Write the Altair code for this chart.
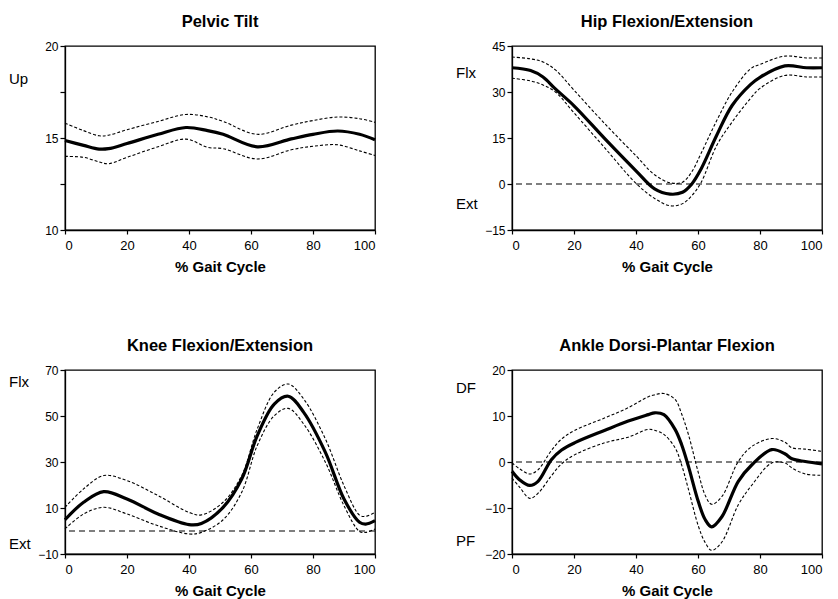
import altair as alt
import pandas as pd

X_TITLE = "% Gait Cycle"
FONT = "Liberation Sans"

# ---- Pelvic tilt (deg) ----
pelvic_x = [0, 6, 11, 14, 20, 30, 39, 46, 51, 62, 73, 80, 88, 95, 100]
pelvic_mean = [14.86, 14.6, 14.4, 14.42, 14.7, 15.2, 15.57, 15.4, 15.2, 14.52, 14.95, 15.2, 15.38, 15.2, 14.9]
pelvic_upper = [15.8, 15.4, 15.12, 15.15, 15.45, 15.9, 16.28, 16.15, 15.9, 15.2, 15.7, 15.95, 16.14, 16.05, 15.85]
pelvic_lower = [14.0, 13.95, 13.7, 13.6, 13.95, 14.52, 14.94, 14.49, 14.42, 13.86, 14.36, 14.55, 14.63, 14.3, 14.05]

# ---- Hip flexion/extension (deg) ----
hip_x = [0, 6, 10, 14, 20, 30, 40, 46, 51, 55, 58, 61, 66, 71, 77, 80, 88, 95, 100]
hip_mean = [37.9, 37.0, 34.9, 31.0, 25.5, 14.7, 4.3, -1.6, -3.3, -2.7, 0.0, 4.9, 15.8, 25.6, 32.5, 34.8, 38.5, 37.9, 37.9]
hip_upper = [41.4, 40.8, 39.8, 37.2, 30.6, 19.6, 9.2, 3.0, 0.4, 0.6, 4.0, 10.0, 20.6, 30.0, 37.6, 39.0, 41.7, 41.1, 41.1]
hip_lower = [34.5, 33.6, 32.3, 30.0, 23.2, 11.7, 0.2, -4.7, -7.1, -6.4, -3.8, 0.5, 12.5, 20.2, 28.0, 31.2, 35.4, 34.9, 34.9]

# ---- Knee flexion/extension (deg) ----
knee_x = [0, 6, 12.5, 20, 30, 40, 44, 51, 57, 62, 67.5, 72, 77, 84, 90, 95, 97, 100]
knee_mean = [4.9, 12.5, 17.1, 13.9, 7.4, 2.8, 3.3, 10.3, 22.6, 41.4, 55.2, 58.6, 51.6, 34.2, 13.9, 3.8, 3.0, 4.5]
knee_upper = [10.3, 18.3, 24.1, 21.9, 15.4, 8.1, 7.0, 12.5, 24.1, 44.3, 60.3, 63.9, 57.4, 40.0, 19.7, 6.9, 6.4, 8.1]
knee_lower = [0.9, 7.4, 10.3, 7.4, 2.3, -1.3, -0.6, 4.9, 16.8, 37.1, 50.1, 53.3, 46.5, 29.9, 11.0, -0.2, -0.6, 0.9]

# ---- Ankle dorsi/plantar flexion (deg) ----
ankle_x = [0, 2.5, 5.7, 8.4, 12.7, 16, 20.3, 30, 37.5, 44, 46, 49, 52.6, 54.7, 56.9, 60.1, 62.3, 64.4, 67.7, 73, 77.4, 83.8, 88, 90.3, 94.6, 100]
ankle_mean = [-2.0, -3.9, -5.1, -4.2, 0.5, 2.6, 4.2, 6.9, 8.9, 10.3, 10.7, 10.3, 7.1, 3.8, -0.9, -8.6, -12.5, -14.1, -11.9, -4.2, -0.6, 2.7, 1.8, 0.7, 0.1, -0.4]
ankle_upper = [-0.2, -1.5, -2.6, -1.7, 2.5, 5.0, 6.9, 9.6, 11.8, 14.2, 14.6, 14.9, 13.6, 10.5, 6.0, -2.3, -7.2, -9.2, -7.5, 0.1, 3.4, 5.1, 4.3, 3.1, 2.8, 2.3]
ankle_lower = [-3.5, -5.5, -7.9, -6.8, -3.0, -0.4, 1.6, 4.2, 5.4, 7.1, 6.9, 6.0, 3.1, -0.6, -5.9, -13.9, -17.5, -19.2, -17.4, -9.3, -5.0, -0.2, -0.2, -1.3, -2.6, -2.9]

# Axis ticks: labelled major values and unlabelled minor values
pelvic_major, pelvic_minor = [10, 15, 20], [12.5, 17.5]
hip_major, hip_minor = [-15, 0, 15, 30, 45], [-7.5, 7.5, 22.5, 37.5]
knee_major, knee_minor = [-10, 10, 30, 50, 70], [0, 20, 40, 60]
ankle_major, ankle_minor = [-20, -10, 0, 10, 20], [-15, -5, 5, 15]

x_ticks = list(range(0, 101, 10))

# Direction labels at the left of each panel
pelvic_side = (["Up"], [18.2])
hip_side = (["Flx", "Ext"], [36.2, -6.6])
knee_side = (["Flx", "Ext"], [64.9, -5.5])
ankle_side = (["DF", "PF"], [16.1, -17.2])

W, H = 310, 184
CURVE = "catmull-rom"


def panel(title, x, mean, upper, lower, major, minor, side, zero_line):
    lo, hi = min(major), max(major)
    df = pd.DataFrame({"x": x, "mean": mean, "upper": upper, "lower": lower})
    sd = df.melt(id_vars="x", value_vars=["upper", "lower"], var_name="band", value_name="v")
    major_list = ",".join(str(m) for m in major)
    xenc = alt.X(
        "x:Q",
        scale=alt.Scale(domain=[0, 100], nice=False, zero=False),
        axis=alt.Axis(
            values=x_ticks,
            labelExpr="datum.value % 20 == 0 ? datum.label : ''",
            title=X_TITLE,
            labelFontSize=13,
            titleFontSize=15,
            titleFontWeight="bold",
            titlePadding=7,
            tickSize=4,
            labelPadding=5,
        ),
    )
    yscale = alt.Scale(domain=[lo, hi], nice=False, zero=False)
    yaxis = alt.Axis(
        values=sorted(major + minor),
        labelExpr="indexof([" + major_list + "], datum.value) >= 0 ? datum.label : ''",
        title=None,
        labelFontSize=12,
        tickSize=5,
        labelPadding=2,
        format="d",
    )
    sd_lines = alt.Chart(sd).mark_line(
        color="black", strokeWidth=1.1, strokeDash=[3, 2], interpolate=CURVE
    ).encode(x=xenc, y=alt.Y("v:Q", scale=yscale, axis=yaxis), detail="band:N")
    mean_line = alt.Chart(df).mark_line(
        color="black", strokeWidth=3.2, interpolate=CURVE
    ).encode(x="x:Q", y=alt.Y("mean:Q", scale=yscale))
    layers = [sd_lines]
    if zero_line:
        zero = alt.Chart(pd.DataFrame({"y": [0]})).mark_rule(
            color="black", strokeWidth=1.1, strokeDash=[6, 4]
        ).encode(y=alt.Y("y:Q", scale=yscale))
        layers.append(zero)
    layers.append(mean_line)
    side_df = pd.DataFrame({"label": side[0], "y": side[1]})
    side_text = alt.Chart(side_df).mark_text(
        align="left", baseline="middle", fontSize=15, font=FONT, color="black"
    ).encode(x=alt.value(-56), y=alt.Y("y:Q", scale=yscale), text="label:N")
    layers.append(side_text)
    return alt.layer(*layers).properties(
        width=W, height=H, title=alt.TitleParams(title, fontSize=16.5, fontWeight="bold", font=FONT, offset=10)
    )


p1 = panel("Pelvic Tilt", pelvic_x, pelvic_mean, pelvic_upper, pelvic_lower,
           pelvic_major, pelvic_minor, pelvic_side, False)
p2 = panel("Hip Flexion/Extension", hip_x, hip_mean, hip_upper, hip_lower,
           hip_major, hip_minor, hip_side, True)
p3 = panel("Knee Flexion/Extension", knee_x, knee_mean, knee_upper, knee_lower,
           knee_major, knee_minor, knee_side, True)
p4 = panel("Ankle Dorsi-Plantar Flexion", ankle_x, ankle_mean, ankle_upper, ankle_lower,
           ankle_major, ankle_minor, ankle_side, True)

chart = alt.vconcat(
    alt.hconcat(p1, p2, spacing=72),
    alt.hconcat(p3, p4, spacing=72),
    spacing=61,
).properties(
    padding={"left": 8, "top": 12, "right": 4, "bottom": 4},
    background="white",
).configure_view(
    stroke="black", strokeWidth=1.3
).configure_axis(
    domainColor="black", domainWidth=1.3, tickColor="black", tickWidth=1.2,
    labelColor="black", titleColor="black", grid=False,
    labelFont=FONT, titleFont=FONT,
).configure_title(
    anchor="middle", color="black"
)

chart.save("out.html", embed_options={"renderer": "svg", "actions": False})
